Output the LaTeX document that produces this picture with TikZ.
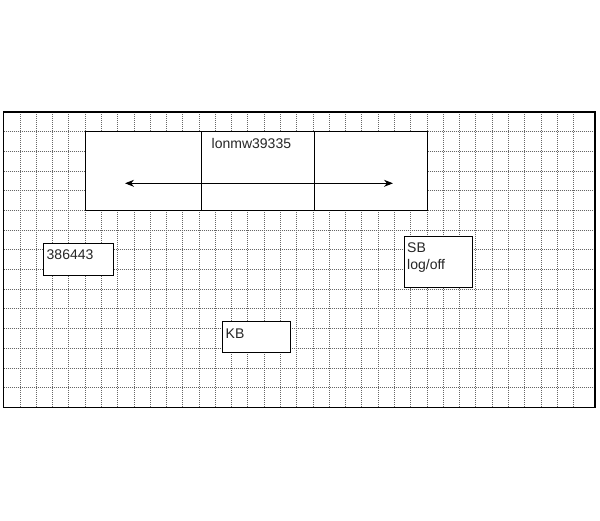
\documentclass[tikz,border=0pt]{standalone}
\usepackage{fontspec}
\setmainfont{Liberation Sans}
\usetikzlibrary{arrows.meta}
\begin{document}
\begin{tikzpicture}[x=1pt,y=-1pt,
  gridline/.style={draw=black!60,line width=0.9pt,dash pattern=on 1pt off 1pt},
  box/.style={draw=black,fill=white,line width=0.9pt},
  lbl/.style={font=\fontsize{14}{15}\selectfont,inner sep=0pt,anchor=west,text=black!85}]
\useasboundingbox (0,0) rectangle (600,520);
\fill[white] (0,0) rectangle (600,520);
% grid
\foreach \k in {0,...,34} {
  \draw[gridline] ({20+16.28*\k},112) -- ({20+16.28*\k},407.5);
}
\foreach \k in {0,...,13} {
  \draw[gridline] (3.5,{131.7+19.69*\k}) -- (595,{131.7+19.69*\k});
}
% border
\draw[line width=1.8pt] (3.5,112) rectangle (595,407.5);
% big box
\filldraw[box] (85,131.7) rectangle (427,210) coordinate (bigse);
\coordinate (d1t) at (201,131.7); \coordinate (d1b) at (201,210);
\coordinate (d2t) at (314,131.7); \coordinate (d2b) at (314,210);
\draw[line width=0.9pt] (d1t) -- (d1b);
\draw[line width=0.9pt] (d2t) -- (d2b);
\node[lbl] (title) at (211.5,143.5) {lonmw39335};
\coordinate (al) at (125,183.3);
\coordinate (ar) at (393,183.3);
\draw[line width=0.9pt,{Stealth[length=9pt,width=7pt]}-{Stealth[length=9pt,width=7pt]}] (al) -- (ar);
% small boxes
\filldraw[box] (43.3,243.3) rectangle (113.3,275.7);
\node[lbl] (n1) at (46.5,255) {386443};
\filldraw[box] (404.3,236) rectangle (472,287);
\node[lbl] (sb) at (407,247.5) {SB};
\node[lbl] (lo) at (407,266) {log/off};
\filldraw[box] (222.7,321.7) rectangle (290,352.3);
\node[lbl] (kb) at (225.5,334) {KB};
\end{tikzpicture}
\end{document}
